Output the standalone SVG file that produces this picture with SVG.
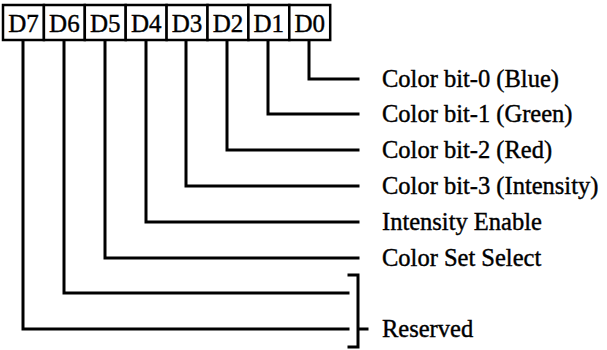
<svg xmlns="http://www.w3.org/2000/svg" width="607" height="350" viewBox="0 0 607 350">
<style>
.cell{fill:#fff;stroke:#000;stroke-width:2.5}
.bl{font-family:"Liberation Serif",serif;font-size:25px;fill:#000;stroke:#000;stroke-width:0.4;text-anchor:middle}
.lab{font-family:"Liberation Serif",serif;font-size:24.5px;fill:#000;stroke:#000;stroke-width:0.4}
.conn{fill:none;stroke:#000;stroke-width:3;stroke-linecap:square}
</style>
<rect width="607" height="350" fill="#fff"/>
<g id="register">
<g id="D7"><rect class="cell" x="3" y="5" width="40.9" height="35"/><text class="bl" x="23.5" y="32">D7</text></g>
<g id="D6"><rect class="cell" x="43.9" y="5" width="40.9" height="35"/><text class="bl" x="64.4" y="32">D6</text></g>
<g id="D5"><rect class="cell" x="84.8" y="5" width="40.9" height="35"/><text class="bl" x="105.3" y="32">D5</text></g>
<g id="D4"><rect class="cell" x="125.7" y="5" width="40.9" height="35"/><text class="bl" x="146.2" y="32">D4</text></g>
<g id="D3"><rect class="cell" x="166.6" y="5" width="40.9" height="35"/><text class="bl" x="187" y="32">D3</text></g>
<g id="D2"><rect class="cell" x="207.5" y="5" width="40.9" height="35"/><text class="bl" x="228" y="32">D2</text></g>
<g id="D1"><rect class="cell" x="248.4" y="5" width="40.9" height="35"/><text class="bl" x="268.8" y="32">D1</text></g>
<g id="D0"><rect class="cell" x="289.3" y="5" width="40.9" height="35"/><text class="bl" x="309.7" y="32">D0</text></g>
</g>
<g id="connectors">
<path class="conn" d="M309,42 V79 H358"/>
<path class="conn" d="M268,42 V114 H358"/>
<path class="conn" d="M227,42 V150 H358"/>
<path class="conn" d="M186,42 V186 H358"/>
<path class="conn" d="M146,42 V222 H358"/>
<path class="conn" d="M105,42 V258 H358"/>
<path class="conn" d="M64,42 V293 H348"/>
<path class="conn" d="M23,42 V329 H348"/>
<path class="conn" d="M349,275 H358 V347 H349 M358,329 H367"/>
</g>
<g id="labels">
<text class="lab" x="382" y="87">Color bit-0 (Blue)</text>
<text class="lab" x="382" y="122">Color bit-1 (Green)</text>
<text class="lab" x="382" y="158">Color bit-2 (Red)</text>
<text class="lab" x="382" y="194">Color bit-3 (Intensity)</text>
<text class="lab" x="382" y="230">Intensity Enable</text>
<text class="lab" x="382" y="266">Color Set Select</text>
<text class="lab" x="382" y="337">Reserved</text>
</g>
</svg>
